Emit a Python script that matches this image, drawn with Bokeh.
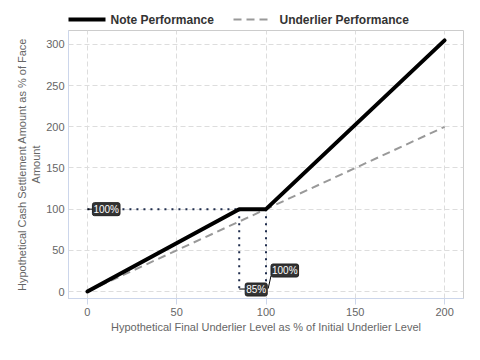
from bokeh.plotting import figure
from bokeh.models import Label, Range1d, FixedTicker
from bokeh.layouts import column
from bokeh.core.properties import value
from bokeh.embed import file_html
from bokeh.resources import INLINE

# ---- data ----
underlier_level = [0, 85, 100, 200]
note_perf = [0, 100, 100, 305]
underlier_x = [0, 200]
underlier_perf = [0, 200]

barrier_level = 85
initial_level = 100
face_return = 100

x_ticks = [0, 50, 100, 150, 200]
y_ticks = [0, 50, 100, 150, 200, 250, 300]

annot_text = ["100%", "85%", "100%"]
annot_x = [0, 85, 100]
annot_y = [100, 0, 0]

legend_labels = ["Note Performance", "Underlier Performance"]

FONT = "Liberation Sans"

W = 472
LH = 29
BL, BR = 68, 9

# ---- legend strip (own small figure above the chart, pixel coordinates) ----
lg = figure(width=W, height=LH, output_backend="svg", toolbar_location=None,
            x_range=Range1d(BL, W - BR), y_range=Range1d(0, LH),
            min_border_left=BL, min_border_right=BR, min_border_top=0, min_border_bottom=0,
            x_axis_type=None, y_axis_type=None)
lg.outline_line_color = None
lg.xgrid.visible = False
lg.ygrid.visible = False
ly = 10
lg.line([67, 105], [ly, ly], line_color="black", line_width=4)
lg.line([233, 269], [ly, ly], line_color="#999999", line_width=2, line_dash="8 5")
lg.text(x=[110, 279], y=[ly, ly], text=legend_labels, text_font=value(FONT),
        text_font_size="12px", text_font_style="bold", text_color="#333333",
        text_baseline="middle", text_align="left")

# ---- main chart ----
p = figure(width=W, height=352 - LH, output_backend="svg", toolbar_location=None,
           x_range=Range1d(-10.6, 210.6), y_range=Range1d(-8.5, 317),
           min_border_left=BL, min_border_right=BR, min_border_bottom=54, min_border_top=1)

p.background_fill_color = "white"
p.outline_line_color = "#cccccc"
p.outline_line_width = 1

for g in (p.xgrid, p.ygrid):
    g.grid_line_color = "#dddddd"
    g.grid_line_dash = "5 3"
    g.grid_line_width = 1
p.xaxis.ticker = FixedTicker(ticks=x_ticks)
p.yaxis.ticker = FixedTicker(ticks=y_ticks)

for ax in (p.xaxis, p.yaxis):
    ax.axis_line_color = "#ccd6eb"
    ax.major_label_text_color = "#666666"
    ax.major_label_text_font = FONT
    ax.major_label_text_font_size = "11px"
    ax.axis_label_text_color = "#666666"
    ax.axis_label_text_font = FONT
    ax.axis_label_text_font_size = "11px"
    ax.axis_label_text_font_style = "normal"
    ax.minor_tick_line_color = None
p.xaxis.major_tick_line_color = "#ccd6eb"
p.xaxis.major_tick_in = 0
p.xaxis.major_tick_out = 6
p.xaxis.major_label_standoff = 3
p.xaxis.axis_label_standoff = 2
p.yaxis.major_tick_line_color = None
p.yaxis.major_tick_in = 0
p.yaxis.major_tick_out = 0
p.yaxis.major_label_standoff = 4
p.yaxis.axis_label_standoff = 1
p.xaxis.axis_label = "Hypothetical Final Underlier Level as % of Initial Underlier Level"
p.yaxis.axis_label = "Hypothetical Cash Settlement Amount as % of Face\nAmount"

dot_color = "#1f2d4d"
p.line([annot_x[0], barrier_level], [face_return, face_return], line_color=dot_color,
       line_width=2, line_dash="2 5")
p.line([barrier_level, barrier_level], [face_return, 3], line_color=dot_color,
       line_width=2, line_dash="2 5")
p.line([initial_level, initial_level], [face_return, 3], line_color=dot_color,
       line_width=2, line_dash="2 5")

p.line(underlier_x, underlier_perf, line_color="#999999", line_width=2, line_dash="8 5")
p.line(underlier_level, note_perf, line_color="black", line_width=4,
       line_cap="round", line_join="round")

p.segment(x0=[annot_x[0], annot_x[1], annot_x[2] + 1.2],
          y0=[annot_y[0], annot_y[1] + 3, annot_y[2] + 3.5],
          x1=[annot_x[0] + 3, annot_x[1] + 3.5, annot_x[2] + 2.8],
          y1=[annot_y[0], annot_y[1] + 3, annot_y[2] + 19],
          line_color="black", line_width=1)

offsets = [(5, 0), (6, 2), (5, 21)]
for t, x, y, (dx, dy) in zip(annot_text, annot_x, annot_y, offsets):
    p.add_layout(Label(x=x, y=y, text=t, x_offset=dx, y_offset=dy,
                       text_align="left", text_baseline="middle",
                       text_color="white", text_font=FONT, text_font_size="10px",
                       background_fill_color="#333333", border_line_color="#222222",
                       border_radius=2, padding=1))

layout = column(lg, p, spacing=0)
open("out.html", "w").write(file_html(layout, INLINE))
